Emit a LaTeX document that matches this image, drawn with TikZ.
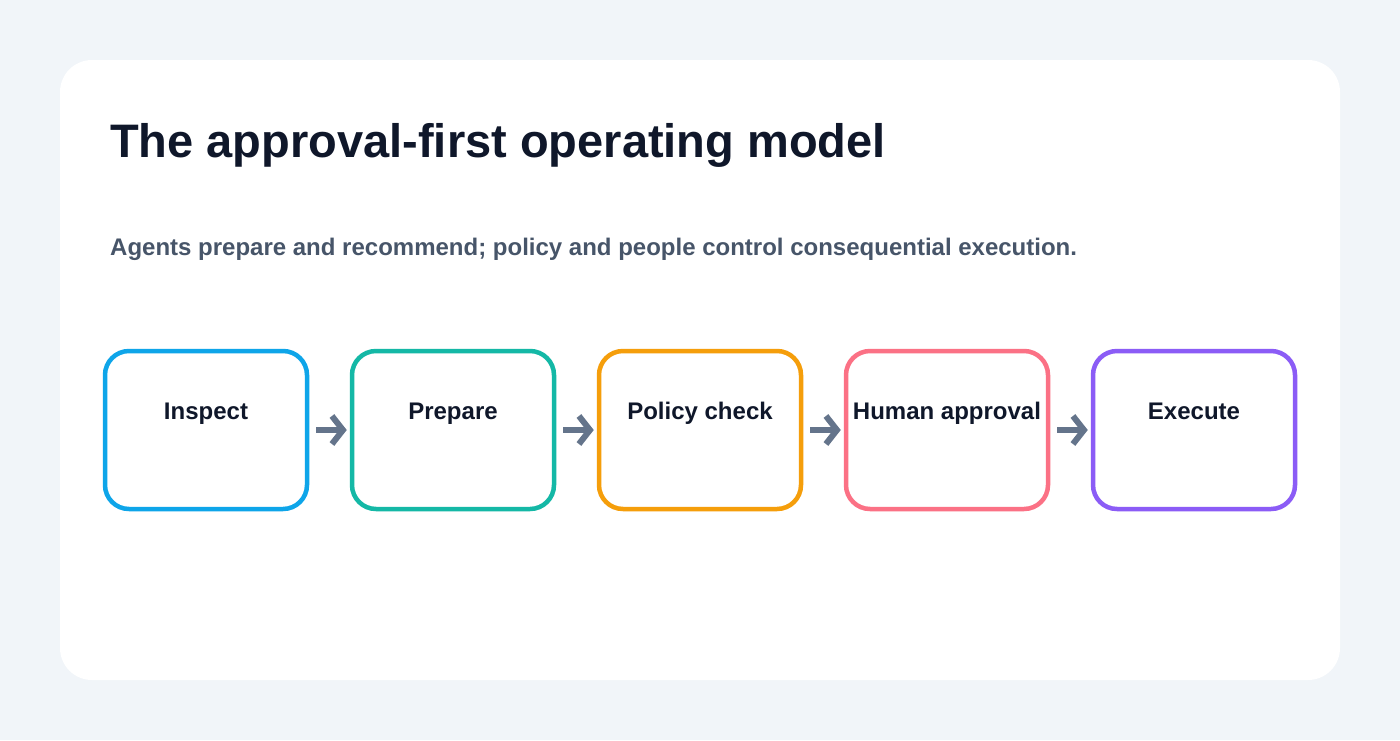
\documentclass[tikz,border=0pt]{standalone}
\usepackage{fontspec}
\setmainfont{Liberation Sans}
\usepackage{xcolor}
\usetikzlibrary{positioning, arrows.meta}
\definecolor{pagebg}{HTML}{F1F5F9}
\definecolor{titlecolor}{HTML}{0F172A}
\definecolor{subcolor}{HTML}{475569}
\definecolor{arrowcolor}{HTML}{64748B}
\definecolor{inspectcolor}{HTML}{0EA5E9}
\definecolor{preparecolor}{HTML}{14B8A6}
\definecolor{policycolor}{HTML}{F59E0B}
\definecolor{humancolor}{HTML}{FB7185}
\definecolor{executecolor}{HTML}{8B5CF6}

\begin{document}
\begin{tikzpicture}[
      % GLOBAL CFG
      x=1pt, y=-1pt,
      >={Straight Barb[length=11pt,width=28pt]},
      % Styles
      stage/.style={% For the stage boxes
        rectangle,
        rounded corners=24pt,
        draw,
        line width=4.5pt,
        fill=white,
        minimum width=202pt,
        minimum height=158pt,
        inner sep=0pt
      },
      stagelabel/.style={% For the stage names
        anchor=base,
        font=\fontsize{24}{28}\selectfont\bfseries,
        text=titlecolor,
        inner sep=0pt
      },
      flow/.style={% Arrows between stages
        ->,
        line width=6pt,
        arrowcolor,
        shorten >=3pt
      }
      ]

      % Page and card
      \fill [pagebg] (0,0) rectangle (1400,740);
      \useasboundingbox (0,0) rectangle (1400,740);
      \fill [white, rounded corners=32pt] (60,60) rectangle (1340,680);

      % Title and subtitle
      \node [anchor=base west, inner sep=0pt, text=titlecolor,
        font=\fontsize{47}{54}\selectfont\bfseries] (title) at (110,157)
        {The approval-first operating model};
      \node [anchor=base west, inner sep=0pt, text=subcolor,
        font=\fontsize{24}{28}\selectfont\bfseries] (subtitle) at (110,255)
        {Agents prepare and recommend; policy and people control consequential execution.};

      % Draw the stages:
      \node [stage, draw=inspectcolor] (inspect) at (206,430) {};
      \node [stage, draw=preparecolor] (prepare) at (453,430) {};
      \node [stage, draw=policycolor] (policy) at (700,430) {};
      \node [stage, draw=humancolor] (human) at (947,430) {};
      \node [stage, draw=executecolor] (execute) at (1194,430) {};

      \node [stagelabel] (inspectlabel) at ([yshift=-71]inspect.north) {Inspect};
      \node [stagelabel] (preparelabel) at ([yshift=-71]prepare.north) {Prepare};
      \node [stagelabel] (policylabel) at ([yshift=-71]policy.north) {Policy check};
      \node [stagelabel] (humanlabel) at ([yshift=-71]human.north) {Human approval};
      \node [stagelabel] (executelabel) at ([yshift=-71]execute.north) {Execute};

      % Arrows
      \draw [flow] ([xshift=7]inspect.east) -- (prepare.west);
      \draw [flow] ([xshift=7]prepare.east) -- (policy.west);
      \draw [flow] ([xshift=7]policy.east) -- (human.west);
      \draw [flow] ([xshift=7]human.east) -- (execute.west);

    \end{tikzpicture}
\end{document}
